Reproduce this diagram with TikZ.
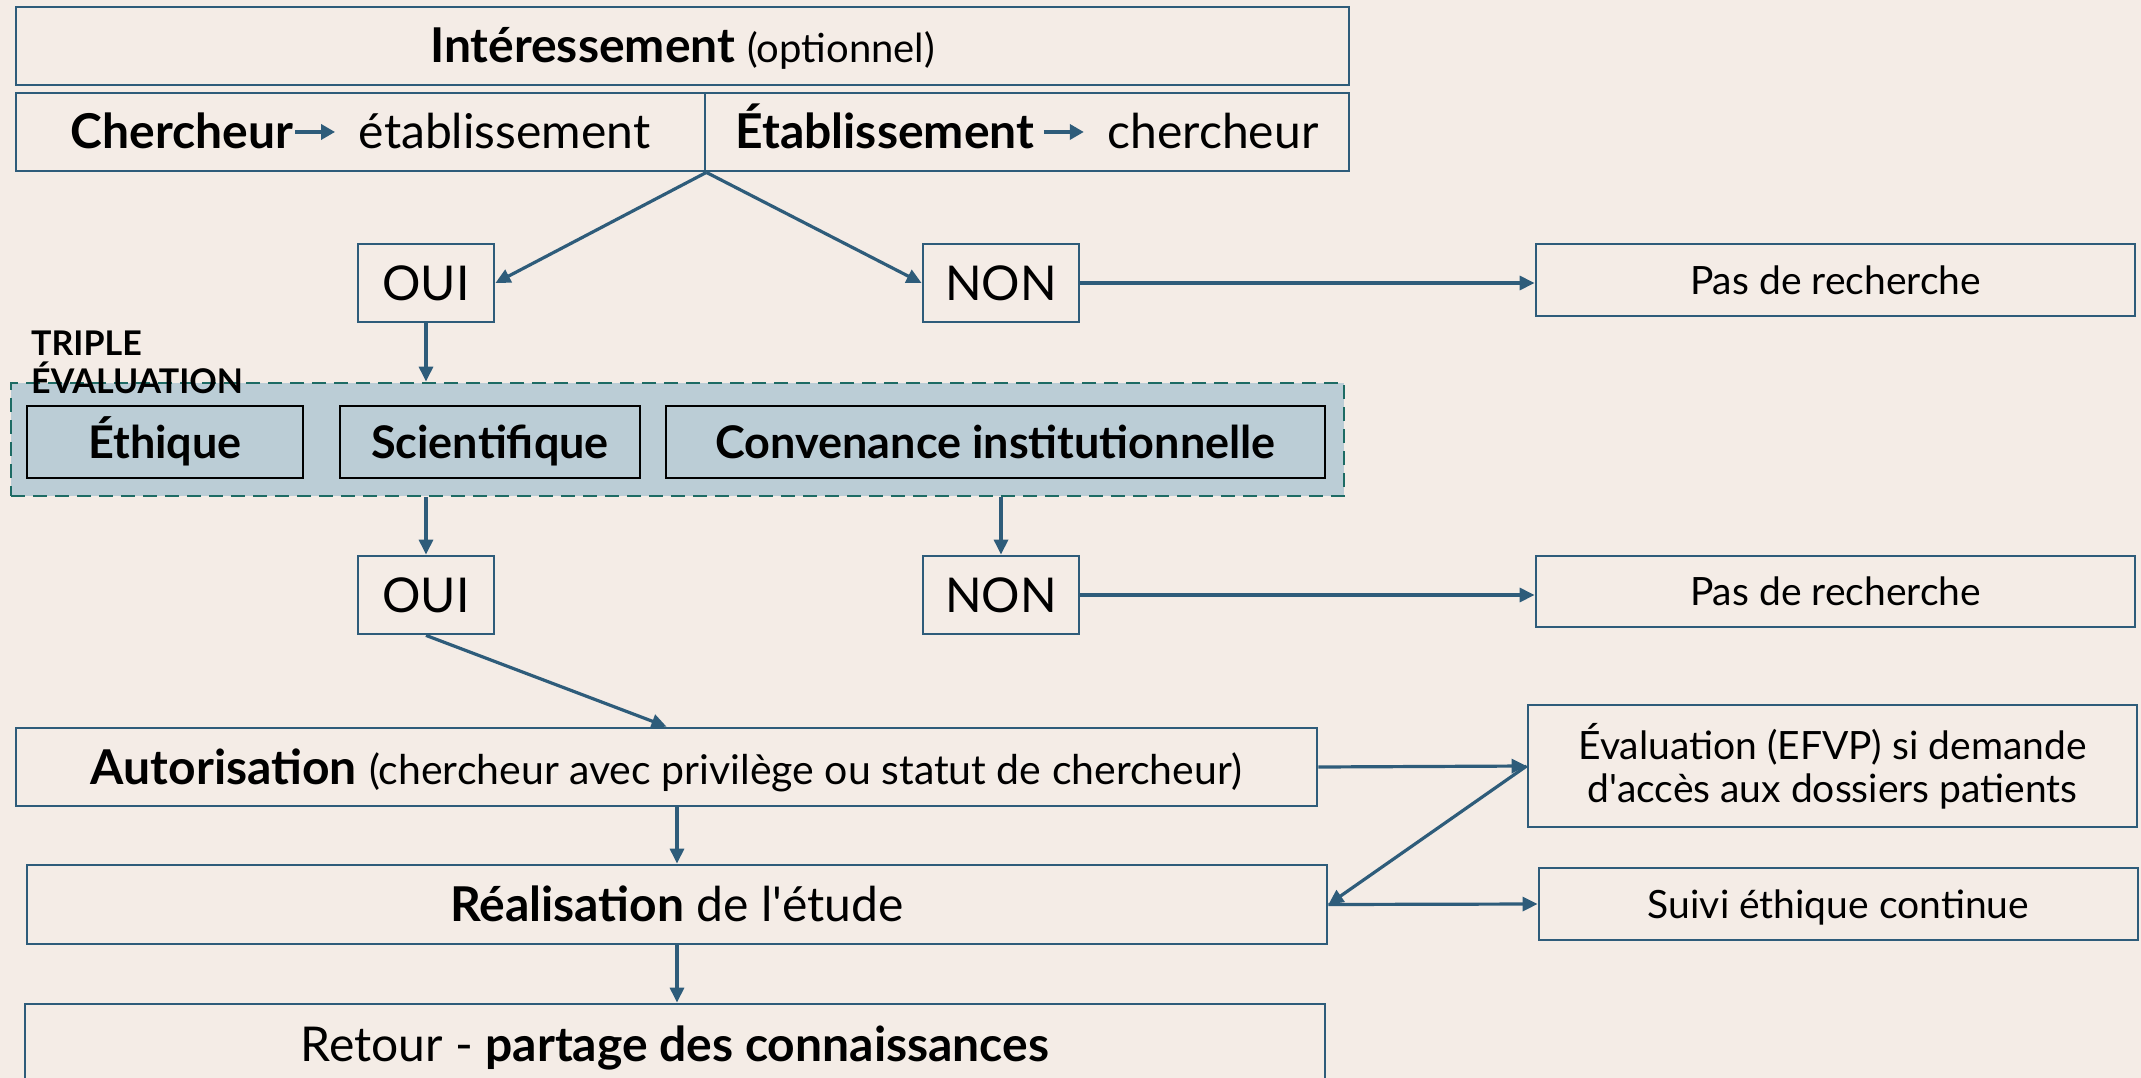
\documentclass[tikz,border=0pt]{standalone}
\usepackage{fontspec}
\setmainfont{Lato}
\newfontfamily\plainlato{Lato}
\newcommand{\apos}{{\plainlato '}}
\usetikzlibrary{arrows.meta,calc}
\definecolor{bg}{HTML}{F4ECE6}
\definecolor{bl}{HTML}{2E5C7A}
\definecolor{tfill}{HTML}{BBCDD6}
\definecolor{dteal}{HTML}{1D6B64}
\newcommand{\inarrow}{\tikz[baseline=-0.7ex]\draw[bl,line width=3.5pt,-{Triangle[length=14pt,width=15pt]}] (0pt,0pt) -- (40pt,0pt);}
\begin{document}
\begin{tikzpicture}[x=1pt,y=-1pt,
  box/.style={draw=bl, line width=2.8pt, fill=bg, inner sep=0pt, text=black},
  ibox/.style={draw=black, line width=2.4pt, fill=tfill, inner sep=0pt, minimum height=72pt,
    font=\fontsize{45}{50}\selectfont\bfseries, text height=32pt, text depth=0pt},
  big/.style={font=\fontsize{48}{54}\selectfont, text height=34pt, text depth=0pt},
  mid/.style={font=\fontsize{39}{45}\selectfont, text height=28pt, text depth=0pt},
  midml/.style={font=\fontsize{39}{45}\selectfont},
  conn/.style={draw=bl, line width=3.2pt, -{Triangle[length=15pt,width=14pt]}}]
\clip (0,0) rectangle (2141,1078);
\fill[bg] (0,0) rectangle (2141,1078);

% top boxes
\node[box, big, minimum width=1333pt, minimum height=78pt] (inter) at (682.5,46)
  {\textbf{Intéressement} {\fontsize{40}{44}\selectfont(optionnel)}};
\node[box, big, minimum width=689pt, minimum height=78pt] (chl) at (360.5,132)
  {\textbf{Chercheur}\inarrow\hspace{22pt}établissement};
\node[box, big, minimum width=644pt, minimum height=78pt] (chr) at (1027,132)
  {\textbf{Établissement}\hspace{8pt}\inarrow\hspace{22pt}chercheur};

% first decision
\node[box, big, minimum width=136pt, minimum height=78pt] (oui1) at (426,283) {OUI};
\node[box, big, minimum width=156pt, minimum height=78pt] (non1) at (1001,283) {NON};
\node[box, mid, minimum width=599pt, minimum height=72pt] (pas1) at (1835.5,280) {Pas de recherche};

% triple evaluation
\node[draw=dteal, dashed, dash pattern=on 14pt off 8pt, line width=2.8pt, fill=tfill,
  minimum width=1333pt, minimum height=113pt, inner sep=0pt] (trip) at (677.5,439.5) {};
\node[ibox, minimum width=276pt] (eth) at (165,442) {Éthique};
\node[ibox, minimum width=300pt] (sci) at (490,442) {Scientifique};
\node[ibox, minimum width=659pt] (conv) at (995.5,442) {Convenance institutionnelle};
\node[anchor=base west, inner sep=0pt, font=\fontsize{34}{38}\selectfont\bfseries] (tl1) at (31,355) {TRIPLE};
\node[anchor=base west, inner sep=0pt, font=\fontsize{34}{38}\selectfont\bfseries] (tl2) at (31,393) {ÉVALUATION};

% second decision
\node[box, big, minimum width=136pt, minimum height=78pt] (oui2) at (426,595) {OUI};
\node[box, big, minimum width=156pt, minimum height=78pt] (non2) at (1001,595) {NON};
\node[box, mid, minimum width=599pt, minimum height=71pt] (pas2) at (1835.5,591.5) {Pas de recherche};

% lower chain
\node[box, big, minimum width=1301pt, minimum height=78pt] (auth) at (666.5,767)
  {\textbf{Autorisation} {\fontsize{41}{45}\selectfont(chercheur avec privilège ou statut de chercheur)}};
\node[box, midml, minimum width=609pt, minimum height=122pt, align=center] (efvp) at (1832.5,766)
  {Évaluation (EFVP) si demande\\[-2pt] d\apos accès aux dossiers patients};
\node[box, big, minimum width=1300pt, minimum height=79pt] (real) at (677,904.5)
  {\textbf{Réalisation} de l\apos étude};
\node[box, mid, minimum width=599pt, minimum height=72pt] (suivi) at (1838.5,904)
  {Suivi éthique continue};
\node[box, big, minimum width=1300pt, minimum height=80pt] (ret) at (675,1044)
  {Retour - \textbf{partage des connaissances}};

% connectors
\coordinate (split) at (chl.south east);
\draw[conn] (split) -- (oui1.east);
\draw[conn] (split) -- (non1.west);
\draw[conn] (non1.east) -- (non1.east -| pas1.west);
\draw[conn] (oui1.south) -- (oui1.south |- trip.north);
\draw[conn] (oui2.north |- trip.south) -- (oui2.north);
\draw[conn] (non2.north |- trip.south) -- (non2.north);
\draw[conn] (non2.east) -- (non2.east -| pas2.west);
\draw[conn] (oui2.south) -- (auth.north);
\draw[conn] (real.north |- auth.south) -- (real.north);
\draw[conn] (real.south) -- (real.south |- ret.north);
\draw[conn] (auth.east) -- (efvp.west);
\draw[conn] (efvp.west) -- (real.east);
\draw[conn] (real.east) -- (suivi.west);
\end{tikzpicture}
\end{document}
